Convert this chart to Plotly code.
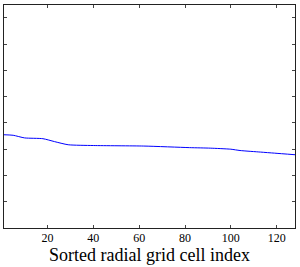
import plotly.graph_objects as go

cell_index = [1, 5, 10, 18, 23, 29, 40, 62, 82, 91, 100, 104, 113, 119, 128]
value = [3.55, 3.53, 3.43, 3.40, 3.29, 3.17, 3.14, 3.12, 3.06, 3.04, 3.00, 2.95, 2.89, 2.85, 2.79]

x_ticks = [20, 40, 60, 80, 100, 120]
y_ticks = [1, 2, 3, 4, 5, 6, 7, 8]

fig = go.Figure()
fig.add_trace(go.Scatter(x=cell_index, y=value, mode="lines",
                         line=dict(color="#0000ff", width=1, shape="spline", smoothing=0.6),
                         showlegend=False, hoverinfo="skip"))

axis_common = dict(showline=True, linecolor="#222222", linewidth=1, mirror="ticks",
                   ticks="inside", ticklen=3, tickcolor="#444444", showgrid=False,
                   zeroline=False)

fig.update_layout(
    width=300, height=267,
    margin=dict(l=4, r=5, t=5, b=39),
    paper_bgcolor="white", plot_bgcolor="white",
    font=dict(family="Liberation Serif", color="black"),
    xaxis=dict(range=[1, 128], tickvals=x_ticks, tickfont=dict(size=12),
               ticklabelstandoff=-1,
               title=dict(text="Sorted radial grid cell index", font=dict(size=18), standoff=0),
               **axis_common),
    yaxis=dict(range=[0, 8.49], tickvals=y_ticks, showticklabels=False, **axis_common),
)

fig.write_html("out.html", config={"displayModeBar": False},
               post_script="document.body.style.margin='0';document.body.style.padding='0';")
